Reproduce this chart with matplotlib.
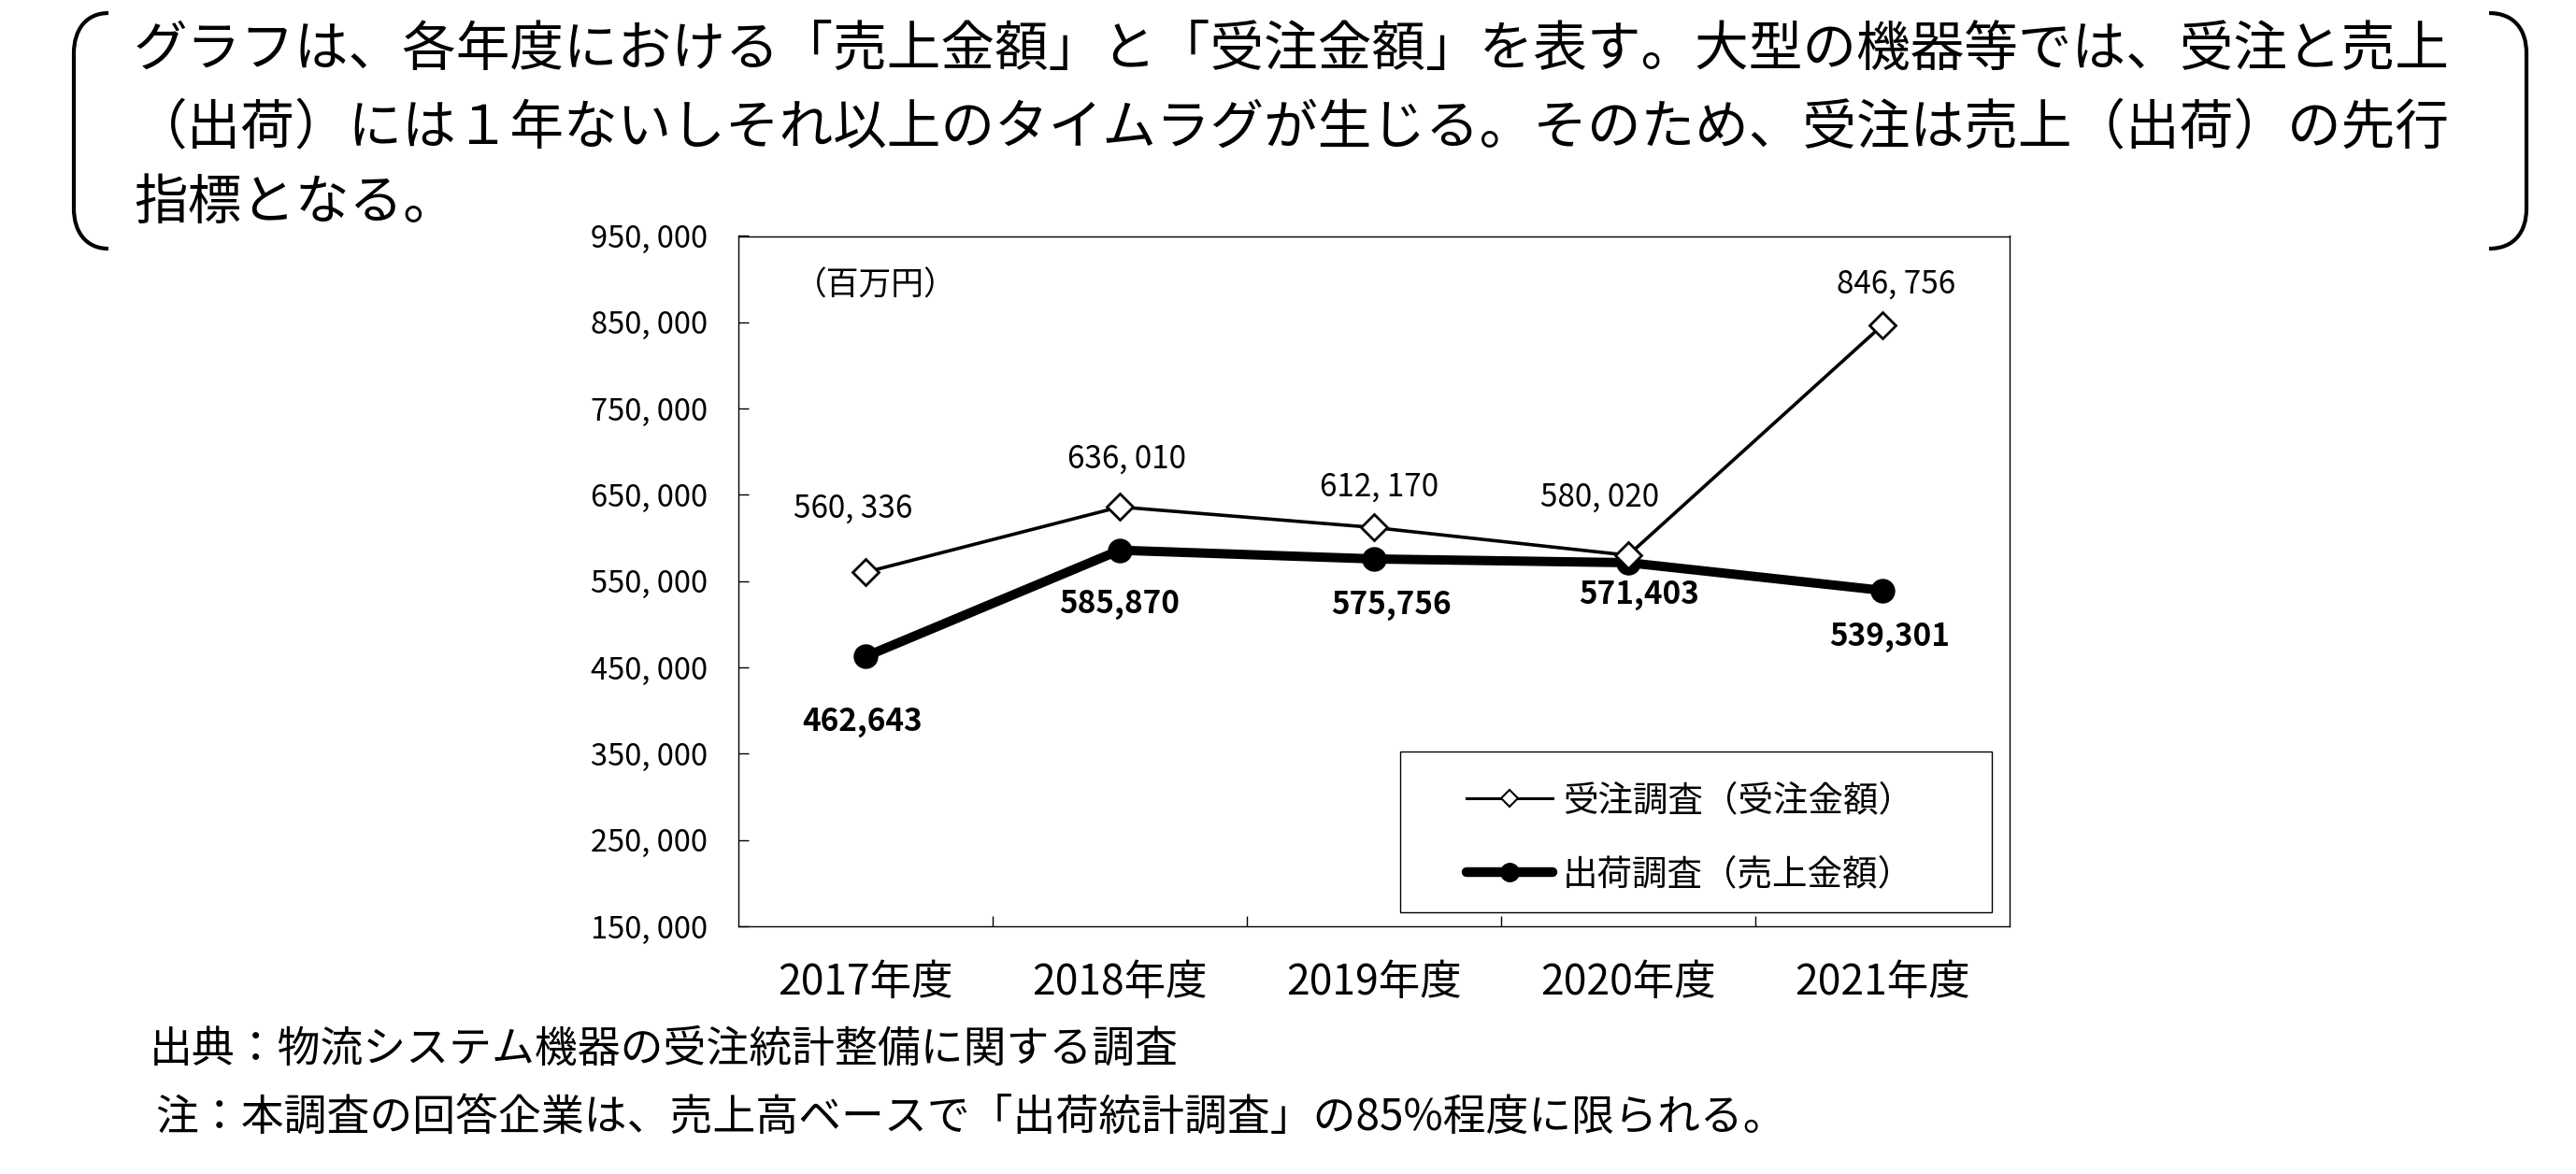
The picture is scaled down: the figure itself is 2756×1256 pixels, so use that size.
import numpy as np
import matplotlib
matplotlib.use("Agg")
from matplotlib import pyplot as plt
from matplotlib.lines import Line2D
from matplotlib.patches import Rectangle, PathPatch
from matplotlib.path import Path

plt.rcParams['font.family'] = ['Noto Sans CJK JP', 'DejaVu Sans']

# data
years = ["2017年度", "2018年度", "2019年度", "2020年度", "2021年度"]
juchu = [560336, 636010, 612170, 580020, 846756]      # 受注調査（受注金額）
shukka = [462643, 585870, 575756, 571403, 539301]     # 出荷調査（売上金額）
juchu_label = "受注調査（受注金額）"
shukka_label = "出荷調査（売上金額）"
y_ticks = [150000, 250000, 350000, 450000, 550000, 650000, 750000, 850000, 950000]

# label offsets in pixels (dx, dy)
juchu_off = [(-13, 68), (8, 51), (6, 43), (-30, 62), (15, 44)]
shukka_off = [(-3, -70), (0, -58), (18, -50), (12, -35), (8, -50)]

W, H = 2756, 1256
fig = plt.figure(figsize=(W / 100, H / 100), dpi=100)

def fx(px):
    return px / W

def fy(py):
    return 1 - py / H

# axes box
ax_l, ax_r, ax_t, ax_b = 790, 2150, 252.5, 991
ax = fig.add_axes([fx(ax_l), fy(ax_b), fx(ax_r - ax_l), (ax_b - ax_t) / H])

x = np.arange(len(years))
ax.plot(x, shukka, color="black", lw=7.2, marker="o", ms=18,
        mfc="black", mec="black", zorder=3)
ax.plot(x, juchu, color="black", lw=2.6, marker="D", ms=14.5,
        mfc="white", mec="black", mew=2.0, zorder=4)

for i in range(len(x)):
    ax.annotate("{:,}".format(juchu[i]).replace(",", ", "), (x[i], juchu[i]),
                xytext=juchu_off[i], textcoords="offset pixels",
                ha="center", va="center", fontsize=24)
    ax.annotate("{:,}".format(shukka[i]), (x[i], shukka[i]),
                xytext=shukka_off[i], textcoords="offset pixels",
                ha="center", va="center", fontsize=24, fontweight="bold")

ax.set_xlim(-0.5, len(years) - 0.5)
ax.set_ylim(150000, 950000)
ax.set_yticks(y_ticks)
ax.set_yticklabels(["{:,}".format(v).replace(",", ", ") for v in y_ticks], fontsize=23.5)
ax.set_xticks(x)
ax.set_xticklabels(years, fontsize=32)
ax.set_xticks(x[:-1] + 0.5, minor=True)
ax.tick_params(axis="x", which="major", length=0, pad=27)
ax.tick_params(axis="x", which="minor", direction="in", length=8, width=1.0)
ax.tick_params(axis="y", direction="in", length=8, width=1.0, pad=24)
for s in ax.spines.values():
    s.set_linewidth(1.0)
    s.set_color("black")

ax.text(0.108, 0.927, "（百万円）", transform=ax.transAxes, fontsize=25,
        ha="center", va="center")

# legend box
lb_l, lb_r, lb_t, lb_b = 1498, 2131, 804, 976
ax.add_patch(Rectangle(((lb_l - ax_l) / (ax_r - ax_l), (ax_b - lb_b) / (ax_b - ax_t)),
                       (lb_r - lb_l) / (ax_r - ax_l), (lb_b - lb_t) / (ax_b - ax_t),
                       transform=ax.transAxes, fill=True, fc="white", ec="black",
                       lw=1.0, zorder=5))
h1 = Line2D([], [], color="black", lw=2.2, marker="D", ms=9, mfc="white", mec="black", mew=1.5)
h2 = Line2D([], [], color="black", lw=7.5, marker="o", ms=14, mfc="black", mec="black",
            solid_capstyle="round")
leg = ax.legend([h1, h2], [juchu_label, shukka_label], loc="upper left",
                bbox_to_anchor=(fx(1569), fy(837)), bbox_transform=fig.transFigure,
                frameon=False, fontsize=27, handlelength=2.45, handletextpad=0.3,
                borderpad=0, borderaxespad=0, labelspacing=1.07)
leg.set_zorder(6)

# title text
lines = ["グラフは、各年度における「売上金額」と「受注金額」を表す。大型の機器等では、受注と売上",
         "（出荷）には１年ないしそれ以上のタイムラグが生じる。そのため、受注は売上（出荷）の先行",
         "指標となる。"]
for py, t in zip([55, 137, 218], lines):
    fig.text(fx(143), fy(py), t, fontsize=41.5, ha="left", va="center")

# brackets
lb = Path([(fx(116), fy(14)), (fx(92), fy(14)), (fx(79), fy(32)), (fx(79), fy(57)),
           (fx(79), fy(223)),
           (fx(79), fy(248)), (fx(92), fy(266)), (fx(116), fy(266))],
          [Path.MOVETO, Path.CURVE4, Path.CURVE4, Path.CURVE4, Path.LINETO,
           Path.CURVE4, Path.CURVE4, Path.CURVE4])
rb = Path([(fx(2663), fy(14)), (fx(2690), fy(14)), (fx(2703), fy(32)), (fx(2703), fy(57)),
           (fx(2703), fy(223)),
           (fx(2703), fy(248)), (fx(2690), fy(266)), (fx(2663), fy(266))],
          [Path.MOVETO, Path.CURVE4, Path.CURVE4, Path.CURVE4, Path.LINETO,
           Path.CURVE4, Path.CURVE4, Path.CURVE4])
for p in (lb, rb):
    fig.add_artist(PathPatch(p, transform=fig.transFigure, fill=False, ec="black", lw=3.0))

# footer
fig.text(fx(160), fy(1122), "出典：物流システム機器の受注統計整備に関する調査",
         fontsize=33, ha="left", va="center")
fig.text(fx(166), fy(1195), "注：本調査の回答企業は、売上高ベースで「出荷統計調査」の85%程度に限られる。",
         fontsize=33, ha="left", va="center")

fig.savefig("out.png", dpi=100)
